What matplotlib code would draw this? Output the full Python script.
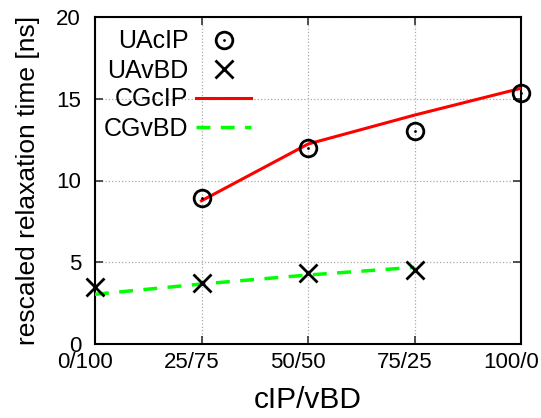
#!/usr/bin/env python3

import matplotlib
matplotlib.use('Agg')
import matplotlib.pyplot as plt
import matplotlib.transforms as mtransforms

plt.rcParams['font.family'] = ['Liberation Sans', 'DejaVu Sans']

# x positions are cIP percentage
tick_pos = [0, 25, 50, 75, 100]
tick_labels = ['0/100', '25/75', '50/50', '75/25', '100/0']

ua_cip_x = [25, 50, 75, 100]
ua_cip_y = [8.95, 11.97, 13.0, 15.33]

ua_vbd_x = [0, 25, 50, 75]
ua_vbd_y = [3.47, 3.75, 4.36, 4.53]

cg_cip_x = [25, 50, 75, 100]
cg_cip_y = [8.76, 12.23, 14.0, 15.64]

cg_vbd_x = [0, 25, 50, 75]
cg_vbd_y = [3.04, 3.67, 4.22, 4.69]

fig = plt.figure(figsize=(5.41, 4.18), dpi=100)
ax = fig.add_axes([95/541, 74/418, 426/541, 327/418])

# open circles with a dot in the middle (gnuplot style)
h_circ = ax.plot(ua_cip_x, ua_cip_y, linestyle='none', marker='o', ms=12,
                 mfc='none', mec='black', mew=2, zorder=4, clip_on=False)[0]
h_dot = ax.plot(ua_cip_x, ua_cip_y, linestyle='none', marker='o', ms=2,
                mfc='black', mec='black', mew=0, zorder=4, clip_on=False)[0]
h_x = ax.plot(ua_vbd_x, ua_vbd_y, linestyle='none', marker='x', ms=13,
              mec='black', mew=2, zorder=4, clip_on=False)[0]
h_red = ax.plot(cg_cip_x, cg_cip_y, color='#ff0000', lw=2.2, zorder=3)[0]
h_green = ax.plot(cg_vbd_x, cg_vbd_y, color='#00ff00', lw=2.5,
                  dashes=(4, 3), zorder=3)[0]

ax.set_xlim(0, 100)
ax.set_ylim(0, 20)
ax.set_xticks(tick_pos)
ax.set_xticklabels(tick_labels)
ax.set_yticks([0, 5, 10, 15, 20])
ax.tick_params(direction='in', length=6, width=1.2, labelsize=16,
               top=True, right=True, color='#333333')
ax.tick_params(axis='x', pad=6)
ax.tick_params(axis='y', pad=10)

# gnuplot puts the x labels a bit to the left
shift = mtransforms.ScaledTranslation(-0.1, 0, fig.dpi_scale_trans)
for lbl in ax.get_xticklabels():
    lbl.set_transform(lbl.get_transform() + shift)

for s in ax.spines.values():
    s.set_linewidth(1.5)

ax.grid(True, color='#aaaaaa', linestyle=':', linewidth=0.9)
ax.set_axisbelow(True)

ax.set_xlabel('cIP/vBD', fontsize=21.5, labelpad=9)
ax.set_ylabel('rescaled relaxation time [ns]', fontsize=19, labelpad=12)

leg = ax.legend([(h_circ, h_dot), h_x, h_red, h_green],
                ['UAcIP', 'UAvBD', 'CGcIP', 'CGvBD'],
                loc='upper left', bbox_to_anchor=(-0.008, 1.0),
                frameon=False, markerfirst=False, fontsize=18,
                handlelength=2.2, handletextpad=0.3, labelspacing=0.2,
                borderaxespad=0.1)
for t in leg.get_texts():
    t.set_ha('right')

fig.savefig('out.png', dpi=100)
